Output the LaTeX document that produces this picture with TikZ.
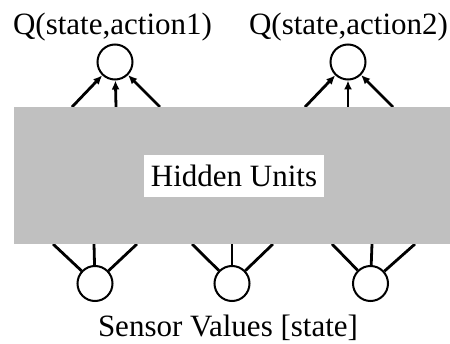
\documentclass[tikz,border=0pt]{standalone}
\usepackage{fontspec}
\setmainfont{Liberation Serif}
\usetikzlibrary{arrows.meta}
\begin{document}
\begin{tikzpicture}[x=1pt,y=1pt,
  unit/.style={circle,draw=black,line width=2pt,minimum size=35pt,inner sep=0pt,fill=white},
  conn/.style={line width=2.8pt},
  arr/.style={line width=2.8pt,-{Latex[length=9pt,width=8pt]}},
  lbl/.style={font=\fontsize{31}{36}\selectfont,anchor=base,inner sep=0pt}]
\useasboundingbox (0,0) rectangle (450,343);
% output units
\node[unit] (o1) at (115,281) {};
\node[unit] (o2) at (348,281) {};
% input units
\node[unit] (i1) at (95,59.5) {};
\node[unit] (i2) at (232,59.5) {};
\node[unit] (i3) at (370.5,59.5) {};
% connector end points on the hidden layer
\coordinate (a1) at (72,236);
\coordinate (a2) at (116,236);
\coordinate (a3) at (160,236);
\coordinate (b1) at (305,236);
\coordinate (b2) at (348,236);
\coordinate (b3) at (393,236);
\coordinate (c1) at (53,99);
\coordinate (c2) at (94,99);
\coordinate (c3) at (137,99);
\coordinate (d1) at (192,99);
\coordinate (d2) at (232,99);
\coordinate (d3) at (273,99);
\coordinate (e1) at (332,99);
\coordinate (e2) at (372,99);
\coordinate (e3) at (415,99);
\foreach \s in {a1,a2,a3} \draw[arr] (\s) -- (o1);
\foreach \s in {b1,b2,b3} \draw[arr] (\s) -- (o2);
\foreach \s in {c1,c2,c3} \draw[conn] (i1) -- (\s);
\foreach \s in {d1,d2,d3} \draw[conn] (i2) -- (\s);
\foreach \s in {e1,e2,e3} \draw[conn] (i3) -- (\s);
% hidden layer
\node[fill={rgb,255:red,192;green,192;blue,192},minimum width=436pt,minimum height=137pt,inner sep=0pt] (hid) at (232,167.5) {};
\node[fill=white,font=\fontsize{31}{36}\selectfont,text height=21pt,text depth=0pt,inner ysep=10.5pt,inner xsep=6.5pt] (hl) at (234,167) {Hidden Units};
% labels
\node[lbl] (q1) at (112.5,308) {Q(state,action1)};
\node[lbl] (q2) at (348.5,308) {Q(state,action2)};
\node[lbl] (sv) at (228,7) {Sensor Values [state]};
\end{tikzpicture}
\end{document}
